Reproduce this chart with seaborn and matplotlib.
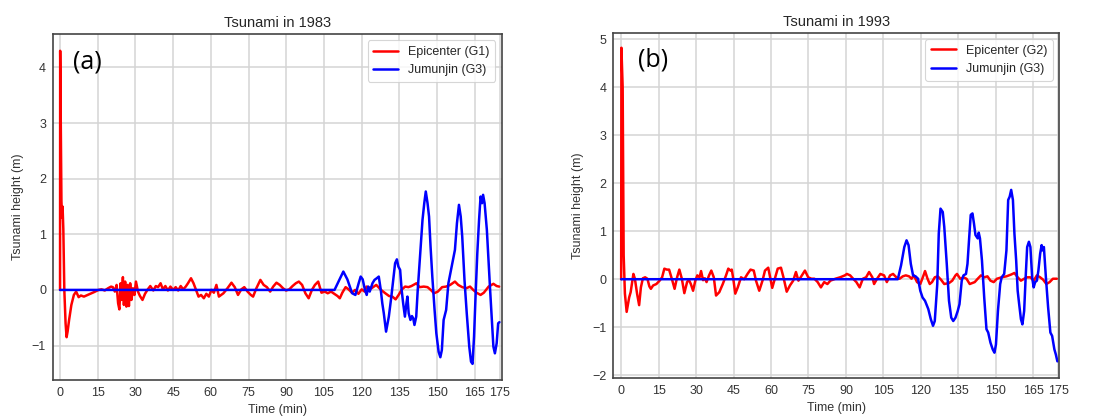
import matplotlib
matplotlib.use("Agg")
import matplotlib.pyplot as plt
import seaborn as sns
import pandas as pd

# ---------------- data ----------------
titles = ["Tsunami in 1983", "Tsunami in 1993"]
panel_tags = ["(a)", "(b)"]
red_labels = ["Epicenter (G1)", "Epicenter (G2)"]
blue_labels = ["Jumunjin (G3)", "Jumunjin (G3)"]
x_ticks = [0, 15, 30, 45, 60, 75, 90, 105, 120, 135, 150, 165, 175]
y_ticks_a = [-1, 0, 1, 2, 3, 4]
y_ticks_b = [-2, -1, 0, 1, 2, 3, 4, 5]

t_red83 = [0, 0.05, 0.35, 0.55, 0.8, 1.0, 1.3, 1.7, 2.2, 2.6, 3.0, 3.6, 4.5, 5.5, 6.4, 7.4, 8.3, 9.5, 11.5, 13.5, 15.3,
           16.5, 17.8, 19.1, 20.3, 21.0, 21.8, 22.5, 23.1, 23.6, 24.1, 24.5, 25.0, 25.4, 25.9, 26.4, 26.9, 27.4, 27.9,
           28.4, 29.0, 29.6, 30.2, 31.0, 31.8, 32.8, 33.8, 34.9, 35.9, 37.1, 38.1, 39.0, 40.0, 40.9, 41.9, 42.9, 43.9,
           45.0, 46.0, 47.0, 48.0, 49.0, 50.0, 50.9, 52.1, 53.1, 54.1, 55.1, 56.1, 57.2, 58.2, 59.2, 60.2, 61.2, 62.2,
           63.2, 65.0, 66.6, 68.2, 69.5, 70.8, 72.1, 73.3, 74.6, 75.9, 76.8, 78.1, 79.7, 81.0, 82.3, 83.6, 84.8, 86.1,
           87.4, 88.7, 89.9, 91.2, 92.5, 93.8, 95.0, 96.3, 97.6, 98.9, 100.2, 101.4, 102.7, 104.0, 105.3, 106.5, 107.8,
           109.1, 110.4, 111.3, 112.3, 113.6, 114.8, 116.1, 117.4, 118.7, 120.0, 121.2, 121.9, 123.9, 125.8, 127.7,
           129.4, 130.9, 132.2, 133.5, 134.7, 136.0, 137.3, 138.6, 139.8, 141.8, 143.0, 144.7, 146.2, 147.5, 148.8,
           150.3, 152.0, 153.6, 155.2, 157.1, 158.4, 160.0, 161.6, 163.1, 164.4, 165.7, 167.3, 168.6, 170.5, 172.4,
           173.7, 174.7]
h_red83 = [0, 4.3, 2.6, 1.6, 1.3, 1.5, 1.1, 0.0, -0.6, -0.85, -0.75, -0.54, -0.27, -0.09, -0.03, -0.13, -0.1, -0.12,
           -0.08, -0.04, 0.0,
           0.01, -0.01, 0.03, 0.06, 0.05, -0.03, 0.09, -0.24, -0.35, 0.12, -0.18, 0.23, -0.27, 0.15, -0.3, 0.09, -0.29,
           0.12, -0.18, 0.03, -0.09, 0.15, -0.03, -0.11, -0.18, -0.07, 0.01, 0.07, -0.01, 0.07, 0.05, 0.12, 0.01, 0.07,
           -0.01, 0.06, 0.0, 0.05, -0.01, 0.07, 0.01, 0.06, 0.12, 0.21, 0.12, 0.0, -0.12, -0.09, -0.15, -0.07, -0.12,
           0.0, -0.05, 0.09, -0.12, -0.06, 0.03, 0.13, 0.05, -0.09, 0.01, 0.05, -0.03, -0.09, -0.12, 0.03, 0.18, 0.09,
           0.05, -0.03, 0.06, 0.13, 0.09, 0.03, -0.01, 0.01, 0.07, 0.12, 0.15, 0.09, -0.06, -0.15, 0.0, 0.09, 0.15,
           -0.05, -0.03, -0.06, -0.03, -0.07, -0.11, -0.15, -0.05, 0.05, 0.01, -0.05, 0.0, -0.07, 0.01, -0.03, 0.06,
           0.03, 0.09, 0.0, -0.06, -0.11, -0.12, -0.17, -0.09, 0.01, 0.06, 0.05, 0.07, 0.12, 0.05, 0.06, 0.05, 0.0,
           -0.06, -0.03, 0.05, 0.06, 0.09, 0.15, 0.09, 0.05, 0.03, 0.06, 0.0, -0.05, -0.09, -0.05, 0.06, 0.11, 0.07,
           0.06]

t_blue83 = [0, 109.2, 111.1, 112.7, 114.3, 116.2, 117.5, 118.8, 119.6, 120.4, 121.3, 122.0, 122.6, 123.2, 124.3, 125.1,
            126.0, 126.8, 127.6, 128.2, 128.8, 129.7, 130.8, 131.8, 132.7, 133.3, 134.0, 134.6, 135.3, 135.9, 136.5,
            137.2, 137.8, 138.2, 138.7, 139.4, 140.0, 140.5, 141.0, 141.7, 142.3, 143.3, 144.2, 144.9, 145.5, 146.2,
            146.8, 147.4, 148.1, 149.0, 149.7, 150.6, 151.3, 151.9, 152.6, 153.6, 154.5, 155.8, 157.1, 157.9, 158.7,
            159.4, 160.0, 160.9, 161.8, 162.8, 163.5, 164.1, 164.7, 165.4, 166.0, 166.7, 167.3, 167.9, 168.3, 168.9,
            169.8, 171.1, 172.4, 173.0, 173.7, 174.3, 174.8]
h_blue83 = [0, 0, 0.18, 0.33, 0.19, -0.06, -0.09, 0.12, 0.24, 0.19, 0.0, -0.09, 0.06, -0.03, 0.12, 0.18, 0.21, 0.24,
            0.0, -0.24, -0.42, -0.75, -0.48, -0.12, 0.24, 0.48, 0.55, 0.42, 0.36, 0.0, -0.24, -0.48, -0.24, -0.12,
            -0.42, -0.54, -0.47, -0.51, -0.63, -0.48, 0.0, 0.66, 1.26, 1.56, 1.77, 1.56, 1.32, 0.78, 0.24, -0.36,
            -0.78, -1.11, -1.21, -1.08, -0.54, -0.36, 0.12, 0.42, 0.72, 1.2, 1.53, 1.32, 0.96, 0.18, -0.42, -1.02,
            -1.29, -1.33, -0.84, 0.0, 0.66, 1.26, 1.68, 1.56, 1.71, 1.56, 1.08, 0.0, -1.02, -1.14, -0.96, -0.6, -0.58]

t_red93 = [0, 0.1, 0.6, 1.0, 1.5, 2.2, 3.2, 3.8, 4.9, 5.5, 6.4, 7.2, 7.9, 8.7, 9.6, 10.5, 11.3, 11.9, 12.8, 14.1, 15.4,
           16.4, 17.3, 18.3, 19.2, 20.5, 21.4, 22.4, 23.3, 24.3, 25.3, 26.4, 27.1, 27.9, 28.8, 29.7, 30.5, 31.4, 32.0,
           32.8, 33.5, 34.2, 35.2, 36.1, 37.1, 38.0, 39.3, 40.7, 42.0, 42.9, 43.8, 44.3, 44.9, 45.7, 46.7, 48.0, 49.3,
           50.6, 51.8, 53.1, 54.0, 55.3, 56.6, 57.6, 58.9, 59.9, 60.5, 61.7, 62.7, 64.0, 65.0, 66.3, 67.6, 68.9, 70.0,
           71.0, 71.9, 73.6, 74.9, 76.2, 77.4, 78.7, 80.0, 81.3, 82.6, 83.8, 85.8, 87.7, 89.6, 90.4, 91.7, 92.9, 94.2,
           95.5, 96.8, 98.1, 99.3, 100.6, 101.3, 102.5, 103.8, 105.3, 106.4, 107.7, 108.9, 110.2, 111.5, 112.8, 114.0,
           115.3, 116.3, 117.2, 118.5, 119.8, 121.1, 121.7, 122.7, 123.6, 124.5, 125.6, 126.8, 128.1, 129.4, 131.3,
           132.6, 133.9, 134.5, 135.8, 137.1, 138.3, 139.6, 141.6, 142.8, 144.1, 145.4, 146.7, 147.9, 149.2, 150.5,
           152.4, 154.3, 156.3, 157.5, 158.8, 160.1, 161.4, 162.6, 163.9, 165.2, 166.5, 167.8, 169.0, 170.3, 171.6,
           172.9, 174.5]
h_red93 = [0, 4.82, 4.0, 0.5, -0.3, -0.68, -0.38, -0.27, 0.11, 0.01, -0.31, -0.54, -0.17, 0.02, 0.04, 0.01, -0.15,
           -0.2, -0.13, -0.1, -0.03, 0.04, 0.22, 0.2, 0.2, -0.03, -0.2, 0.04, 0.2, 0.01, -0.29, -0.06, -0.01, -0.1,
           -0.24, -0.03, 0.08, 0.04, 0.17, -0.02, 0.02, -0.06, 0.08, 0.18, 0.04, -0.34, -0.27, -0.1, 0.08, 0.22, 0.18,
           0.2, 0.01, -0.3, -0.17, 0.04, 0.0, 0.11, 0.2, 0.18, -0.03, -0.24, -0.03, 0.18, 0.24, -0.03, -0.18, 0.04,
           0.22, 0.24, 0.04, -0.26, -0.13, -0.03, 0.15, -0.03, 0.04, 0.18, 0.04, 0.01, 0.01, -0.06, -0.17, -0.06, -0.1,
           -0.03, 0.01, 0.04, 0.08, 0.11, 0.08, 0.01, -0.06, -0.17, 0.01, 0.04, 0.15, 0.04, -0.1, 0.01, 0.11, 0.08,
           -0.06, 0.08, 0.11, 0.04, 0.01, 0.06, 0.08, 0.06, 0.01, 0.08, -0.06, -0.1, 0.08, 0.17, 0.01, -0.1, -0.06,
           0.04, 0.06, -0.01, -0.1, -0.08, -0.03, 0.08, 0.11, 0.01, 0.04, 0.01, -0.1, -0.06, 0.01, 0.08, 0.04, 0.06,
           -0.03, -0.06, 0.01, 0.04, 0.06, 0.1, 0.13, 0.04, -0.03, 0.01, 0.04, 0.04, -0.03, 0.08, 0.04, -0.01, -0.1,
           -0.06, 0.01, 0.01]

t_blue93 = [0, 110.8, 112.1, 113.4, 114.3, 115.1, 116.0, 116.9, 117.9, 118.9, 119.8, 120.7, 121.7, 123.0, 124.0, 124.9,
            125.6, 126.6, 127.2, 127.9, 128.8, 129.4, 130.4, 131.3, 132.2, 133.0, 133.9, 134.8, 135.5, 136.4, 137.1,
            138.1, 138.7, 139.4, 140.0, 140.7, 141.3, 141.9, 142.8, 143.2, 143.7, 144.5, 145.4, 146.3, 147.0, 147.9,
            148.8, 149.5, 150.1, 150.9, 151.8, 152.4, 153.4, 154.3, 155.0, 155.6, 156.2, 156.9, 157.5, 158.2, 158.8,
            159.4, 160.1, 160.7, 161.4, 162.0, 162.6, 163.3, 163.9, 164.6, 165.2, 165.8, 166.5, 167.1, 167.8, 168.4,
            168.8, 169.3, 170.1, 171.0, 171.9, 172.6, 173.5, 174.1, 174.7]
h_blue93 = [0, 0, 0.29, 0.67, 0.81, 0.71, 0.32, 0.08, 0.06, 0.01, -0.24, -0.38, -0.45, -0.62, -0.83, -0.97, -0.87,
            -0.1, 0.95, 1.47, 1.4, 1.09, 0.32, -0.45, -0.8, -0.87, -0.8, -0.66, -0.52, -0.03, 0.08, 0.11, 0.32, 0.88,
            1.34, 1.37, 1.16, 0.92, 0.85, 0.97, 0.85, 0.39, -0.38, -1.04, -1.11, -1.32, -1.46, -1.53, -1.36, -0.66,
            -0.1, 0.04, 0.11, 0.6, 1.65, 1.72, 1.86, 1.65, 0.95, 0.39, -0.24, -0.52, -0.83, -0.94, -0.66, 0.04, 0.67,
            0.78, 0.67, 0.04, -0.17, -0.06, -0.03, 0.18, 0.53, 0.71, 0.6, 0.67, 0.04, -0.59, -1.11, -1.18, -1.46,
            -1.57, -1.71]

# ---------------- styling ----------------
sns.set_theme(style="whitegrid")
plt.rcParams["font.family"] = ["Liberation Sans", "DejaVu Sans"]
plt.rcParams["axes.edgecolor"] = "#444444"
plt.rcParams["grid.color"] = "#d4d4d4"
plt.rcParams["text.color"] = "#262626"

fig = plt.figure(figsize=(10.93, 4.16), dpi=100)
ax_a = fig.add_axes([0.0485, 0.0865, 0.4105, 0.8315])
ax_b = fig.add_axes([0.561, 0.091, 0.408, 0.830])

panels = [
    (ax_a, t_red83, h_red83, t_blue83, h_blue83, (-2.8, 175.7), (-1.62, 4.6), y_ticks_a),
    (ax_b, t_red93, h_red93, t_blue93, h_blue93, (-3.2, 175.4), (-2.06, 5.13), y_ticks_b),
]

for i, (ax, tr, hr, tb, hb, xl, yl, yt) in enumerate(panels):
    df_r = pd.DataFrame({"t": tr, "h": hr})
    df_b = pd.DataFrame({"t": tb, "h": hb})
    sns.lineplot(data=df_r, x="t", y="h", ax=ax, color="#ff0000", lw=1.8,
                 label=red_labels[i], sort=False, estimator=None)
    sns.lineplot(data=df_b, x="t", y="h", ax=ax, color="#0000ff", lw=1.8,
                 label=blue_labels[i], sort=False, estimator=None)
    ax.set_xlim(*xl)
    ax.set_ylim(*yl)
    ax.set_xticks(x_ticks)
    ax.set_yticks(yt)
    ax.tick_params(axis="both", labelsize=9, colors="#333333", pad=5, length=0)
    ax.grid(True, color="#d4d4d4", lw=1.1)
    for s in ax.spines.values():
        s.set_visible(True)
        s.set_color("#444444")
        s.set_linewidth(1.2)
    ax.set_title(titles[i], fontsize=10.5, pad=5, color="#262626")
    ax.set_xlabel("Time (min)", fontsize=9, color="#333333")
    ax.set_ylabel("Tsunami height (m)", fontsize=9, color="#333333")
    ax.yaxis.set_label_coords(-0.065, 0.5)
    ax.xaxis.set_label_coords(0.5, -0.068)
    ax.text(0.045 if i == 0 else 0.056, 0.92, panel_tags[i], transform=ax.transAxes,
            fontsize=18, va="center", ha="left", color="black", family="Open Sans")
    leg = ax.legend(loc="upper right", fontsize=9, frameon=True, handlelength=2.0,
                    borderpad=0.45, labelspacing=0.5)
    leg.get_frame().set_edgecolor("#cccccc")
    leg.get_frame().set_linewidth(0.8)

fig.savefig("out.png", dpi=100)
